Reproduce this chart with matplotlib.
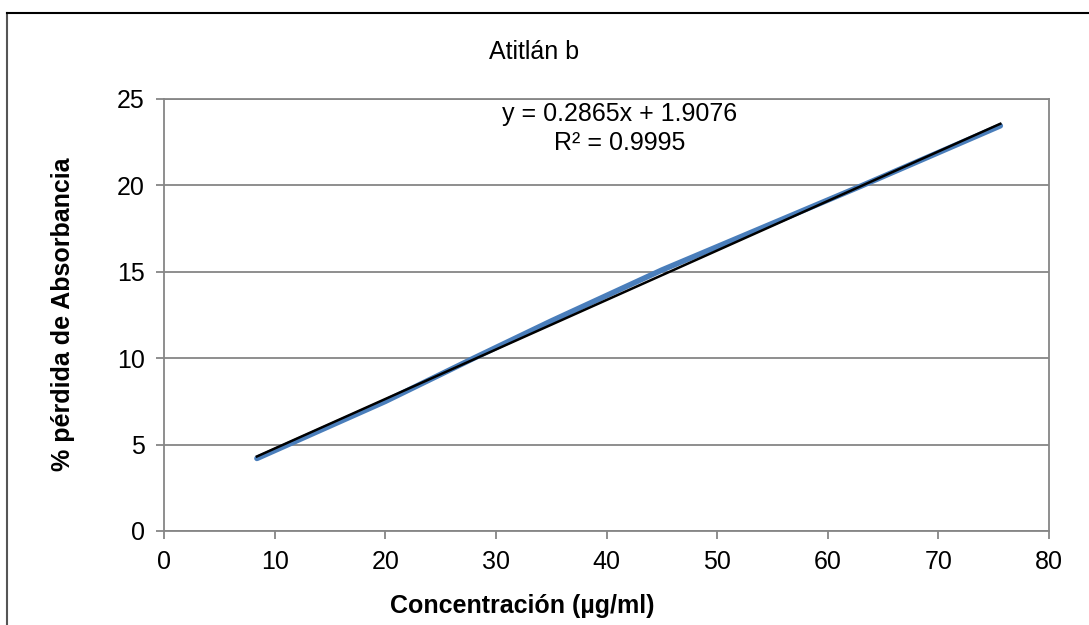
import matplotlib
matplotlib.use("Agg")
import matplotlib.pyplot as plt
from matplotlib.lines import Line2D

# data
conc = [8.4, 20.0, 28.0, 35.0, 45.0, 55.0, 63.0, 75.6]
perdida = [4.2, 7.5, 10.0, 12.15, 15.1, 17.8, 19.96, 23.45]
slope = 0.2865
intercept = 1.9076
r2 = 0.9995

plt.rcParams["font.family"] = ["Liberation Sans", "DejaVu Sans"]

fig = plt.figure(figsize=(10.89, 6.25), dpi=100)
ax = fig.add_axes([164 / 1089, 94 / 625, 885 / 1089, 432 / 625])

gray = "#868686"
ax.plot(conc, perdida, color="#4A7EBB", lw=4.0, solid_capstyle="round", zorder=3)
tx = [min(conc), max(conc)]
ax.plot(tx, [slope * x + intercept for x in tx], color="black", lw=1.8, zorder=4)

ax.set_xlim(0, 80)
ax.set_ylim(0, 25)
ax.set_xticks(range(0, 81, 10))
ax.set_yticks(range(0, 26, 5))
ax.yaxis.grid(True, color=gray, lw=1.3)
ax.set_axisbelow(True)
for s in ax.spines.values():
    s.set_color(gray)
    s.set_linewidth(1.3)
ax.tick_params(labelsize=18, color=gray, width=1.3, length=6, direction="out")
ax.tick_params(axis="x", pad=8)
ax.tick_params(axis="y", pad=8)

fig.text(620 / 1089, 1 - 114 / 625, f"y = {slope}x + {intercept}", fontsize=18,
         ha="center", va="center")
fig.text(620 / 1089, 1 - 143 / 625, f"R² = {r2}", fontsize=18,
         ha="center", va="center")

fig.text(534 / 1089, 1 - 52 / 625, "Atitlán b", fontsize=18, ha="center", va="center")
fig.text(522 / 1089, 1 - 606 / 625, "Concentración (µg/ml)", fontsize=18,
         fontweight="bold", ha="center", va="center")
fig.text(63 / 1089, 1 - 314 / 625, "% pérdida de Absorbancia", fontsize=18,
         fontweight="bold", ha="center", va="center", rotation=90)

# outer chart-area border (top and left visible)
fig.add_artist(Line2D([7 / 1089, 7 / 1089], [0, 1 - 13 / 625], color="#555555", lw=1.5))
fig.add_artist(Line2D([7 / 1089, 1], [1 - 13 / 625, 1 - 13 / 625], color="black", lw=1.5))

fig.savefig("out.png", dpi=100)
